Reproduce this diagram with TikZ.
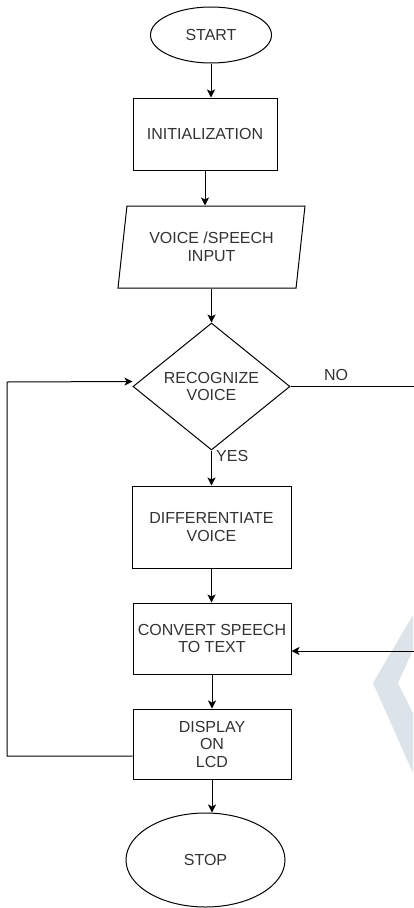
\documentclass[tikz,border=0pt]{standalone}
\usepackage{fontspec}
\setmainfont{Liberation Sans}
\usetikzlibrary{shapes.geometric,arrows.meta,calc}
\definecolor{txt}{HTML}{333333}
\definecolor{wm}{RGB}{221,228,233}
\begin{document}
\begin{tikzpicture}[x=1pt,y=-1pt,
  every node/.style={text=txt, font=\fontsize{16}{17.5}\selectfont, align=center, inner sep=0pt},
  box/.style={draw=black, line width=1pt, rectangle, minimum width=158pt},
  term/.style={draw=black, line width=1pt, ellipse},
  io/.style={draw=black, line width=1pt, trapezium, trapezium left angle=73, trapezium right angle=107,
             trapezium stretches body, minimum width=187pt, minimum height=82pt},
  dec/.style={draw=black, line width=1pt, diamond, minimum width=157pt, minimum height=127pt},
  lbl/.style={},
  arr/.style={-{Stealth[length=8pt,width=8pt,inset=2pt]}, line width=1pt, draw=black},
  ln/.style={line width=1pt, draw=black}]
\useasboundingbox (0,0) rectangle (413,908);
\fill[white] (0,0) rectangle (413,908);
\fill[wm] (413,615) -- (373,683) -- (413,773) -- (413,713) -- (398,683) -- (413,650) -- cycle;

\node[term, minimum width=121pt, minimum height=56pt] (start) at (211,35) {START};
\node[box, minimum width=144pt, minimum height=72pt] (init) at (205,134) {INITIALIZATION};
\node[io] (inp) at (211.5,247) {VOICE /SPEECH\\INPUT};
\node[dec] (dia) at (211.5,386.5) {RECOGNIZE\\VOICE};
\node[box, minimum width=159pt, minimum height=82pt] (diff) at (211.5,527) {DIFFERENTIATE\\VOICE};
\node[box, minimum height=71pt] (conv) at (212,638.5) {CONVERT SPEECH\\TO TEXT};
\node[box, minimum height=70pt] (disp) at (212,744) {DISPLAY\\ON\\LCD};
\node[term, minimum width=159pt, minimum height=94pt] (stop) at (205.5,860) {STOP};

\node[lbl, anchor=west] (yes) at (216,456) {YES};
\node[lbl] (no) at (336,375) {NO};

\draw[arr] (start.south) -- (start.south |- init.north);
\draw[arr] (init.south) -- (init.south |- inp.north);
\draw[arr] (dia.north |- inp.south) -- (dia.north);
\draw[arr] (dia.south) -- (dia.south |- diff.north);
\draw[arr] (diff.south) -- (diff.south |- conv.north);
\draw[arr] (conv.south) -- (conv.south |- disp.north);
\draw[arr] (disp.south) -- (disp.south |- stop.north);
\draw[arr] (dia.east) -- (418,386.5) -- (418,651) -- ([yshift=-12.5pt]conv.east);
\draw[arr] ([yshift=-12pt]disp.west) -- (7,756) -- (7,382) -- ([yshift=5pt]dia.west);
\end{tikzpicture}
\end{document}
